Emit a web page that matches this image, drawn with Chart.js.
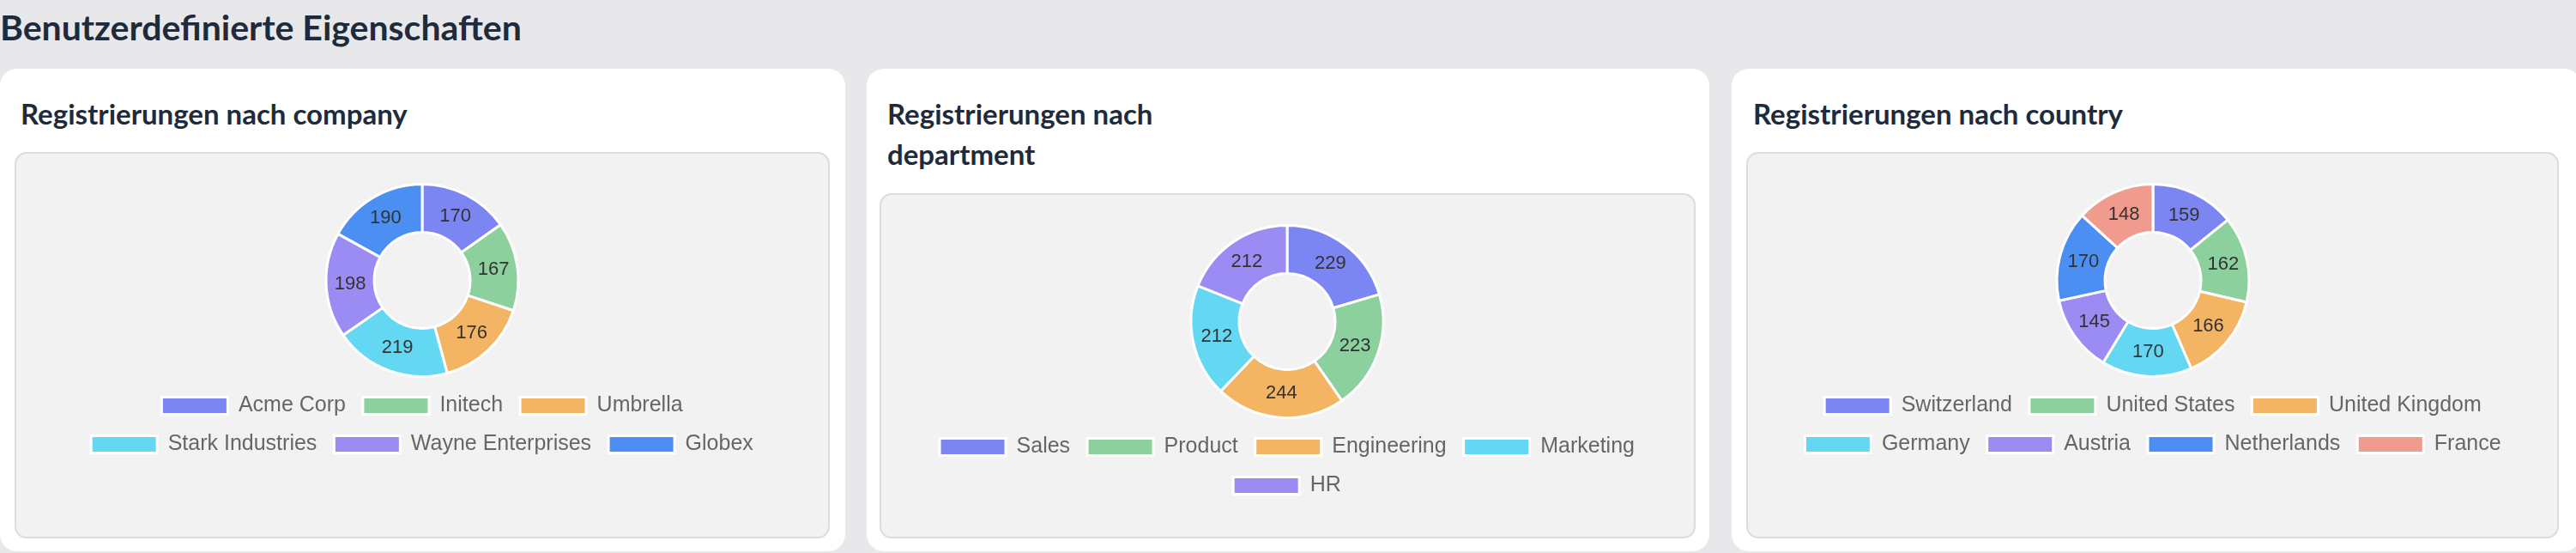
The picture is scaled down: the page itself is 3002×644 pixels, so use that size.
<!DOCTYPE html>
<html><head><meta charset="utf-8">
<script src="https://cdn.jsdelivr.net/npm/chart.js@4"></script>
<style>
html,body{margin:0;padding:0;width:3002px;height:644px;background:#e8e7e9;overflow:hidden;font-family:Lato,"Noto Sans",sans-serif;}
h1{position:absolute;left:0;top:0;margin:0;font-size:41px;font-weight:700;color:#1e2b3c;line-height:64px;}
.card{position:absolute;top:80px;height:562px;background:#fff;border-radius:20px;}
.card h2{position:absolute;left:24px;top:29px;margin:0;font-size:33px;font-weight:700;color:#1e2b3c;line-height:47px;}
.box{position:absolute;background:#f2f2f2;border:2px solid #dcdcdc;border-radius:14px;box-sizing:border-box;}
.cv{position:absolute;top:34px;width:870px;height:327px;}
</style></head><body>
<h1>Benutzerdefinierte Eigenschaften</h1>
<div class="card" style="left:0;width:985px"><h2>Registrierungen nach company</h2>
<div class="box" style="left:17px;top:97px;width:950px;height:450px"><div class="cv" style="left:38px"><canvas id="c1"></canvas></div></div></div>
<div class="card" style="left:1010px;width:982px"><h2 style="left:24px">Registrierungen nach<br>department</h2>
<div class="box" style="left:15px;top:145px;width:951px;height:402px"><div class="cv" style="left:38px"><canvas id="c2"></canvas></div></div></div>
<div class="card" style="left:2018px;width:990px"><h2 style="left:25px">Registrierungen nach country</h2>
<div class="box" style="left:17px;top:97px;width:947px;height:450px"><div class="cv" style="left:37px"><canvas id="c3"></canvas></div></div></div>
<script>
const companyLabels=["Acme Corp","Initech","Umbrella","Stark Industries","Wayne Enterprises","Globex"];
const companyValues=[170,167,176,219,198,190];
const departmentLabels=["Sales","Product","Engineering","Marketing","HR"];
const departmentValues=[229,223,244,212,212];
const countryLabels=["Switzerland","United States","United Kingdom","Germany","Austria","Netherlands","France"];
const countryValues=[159,162,166,170,145,170,148];
const palette=["#7c86f2","#8cd09d","#f3b563","#64d8f3","#9b8cf3","#4b8ff2","#f09b8d"];

const valueLabels={id:"valueLabels",afterDatasetsDraw(chart){
  const ctx=chart.ctx;const ds=chart.data.datasets[0];
  ctx.save();ctx.font="22px 'Liberation Sans', Arial, sans-serif";ctx.fillStyle="#333";
  ctx.textAlign="center";ctx.textBaseline="middle";
  chart.getDatasetMeta(0).data.forEach((arc,i)=>{const p=arc.tooltipPosition();ctx.fillText(String(ds.data[i]),p.x,p.y);});
  ctx.restore();}};

function make(id,labels,values){
  new Chart(document.getElementById(id),{type:"doughnut",
    data:{labels:labels,datasets:[{data:values,backgroundColor:palette.slice(0,values.length),borderColor:"#fff",borderWidth:3}]},
    options:{responsive:true,maintainAspectRatio:false,animation:false,cutout:"50%",
      plugins:{tooltip:{enabled:false},legend:{position:"bottom",labels:{boxWidth:77,boxHeight:20,padding:20,color:"#666",font:{size:25,family:"'Liberation Sans', Arial, sans-serif"}}}}},
    plugins:[valueLabels]});
}
make("c1",companyLabels,companyValues);
make("c2",departmentLabels,departmentValues);
make("c3",countryLabels,countryValues);
</script></body></html>
